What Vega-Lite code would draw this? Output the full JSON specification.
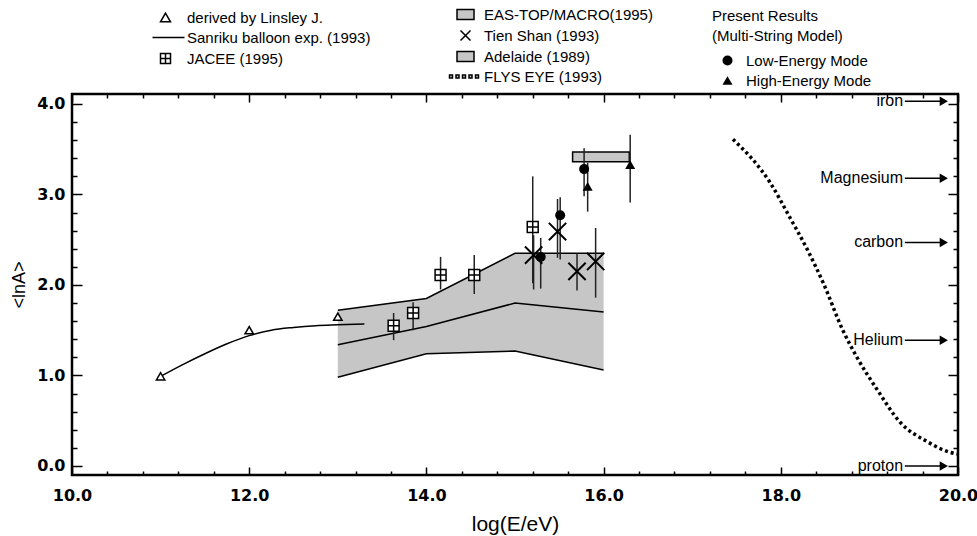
{
  "$schema": "https://vega.github.io/schema/vega-lite/v6.json",
  "width": 886,
  "height": 381,
  "autosize": {"type": "none"},
  "padding": {"left": 72, "top": 94, "right": 19, "bottom": 61},
  "background": "white",
  "config": {
    "view": {"stroke": "black", "strokeWidth": 2.5},
    "font": "Liberation Sans"
  },
  "datasets": {
    "band": [
      {"x": 13, "up": 1.72, "mid": 1.34, "lo": 0.98},
      {"x": 14, "up": 1.85, "mid": 1.54, "lo": 1.24},
      {"x": 15, "up": 2.35, "mid": 1.80, "lo": 1.27},
      {"x": 16, "up": 2.35, "mid": 1.70, "lo": 1.06}
    ],
    "eastop": [{"x": 15.65, "x2": 16.29, "y": 3.36, "y2": 3.47}],
    "sanriku": [
      {"x": 11.0, "y": 0.99},
      {"x": 11.25, "y": 1.12},
      {"x": 11.5, "y": 1.24},
      {"x": 11.75, "y": 1.35},
      {"x": 12.0, "y": 1.44},
      {"x": 12.25, "y": 1.5},
      {"x": 12.5, "y": 1.53},
      {"x": 12.75, "y": 1.55},
      {"x": 13.0, "y": 1.56},
      {"x": 13.3, "y": 1.57}
    ],
    "flys": [
      {"x": 17.46, "y": 3.61},
      {"x": 17.88, "y": 3.13},
      {"x": 18.1, "y": 2.75},
      {"x": 18.3, "y": 2.39},
      {"x": 18.48, "y": 2.02},
      {"x": 18.7, "y": 1.5},
      {"x": 18.86, "y": 1.2},
      {"x": 19.09, "y": 0.84},
      {"x": 19.35, "y": 0.48},
      {"x": 19.65, "y": 0.27},
      {"x": 19.91, "y": 0.15},
      {"x": 20.0, "y": 0.13}
    ],
    "points": [
      {"series": "derived by Linsley J.", "x": 11.0, "y": 0.99, "lo": null, "hi": null},
      {"series": "derived by Linsley J.", "x": 12.0, "y": 1.5, "lo": null, "hi": null},
      {"series": "derived by Linsley J.", "x": 13.0, "y": 1.65, "lo": null, "hi": null},
      {"series": "JACEE (1995)", "x": 13.63, "y": 1.55, "lo": 1.39, "hi": 1.69},
      {"series": "JACEE (1995)", "x": 13.85, "y": 1.69, "lo": 1.5, "hi": 1.81},
      {"series": "JACEE (1995)", "x": 14.16, "y": 2.11, "lo": 1.95, "hi": 2.31},
      {"series": "JACEE (1995)", "x": 14.54, "y": 2.11, "lo": 1.9, "hi": 2.33},
      {"series": "JACEE (1995)", "x": 15.2, "y": 2.64, "lo": 2.02, "hi": 3.2},
      {"series": "Tien Shan (1993)", "x": 15.21, "y": 2.33, "lo": 1.95, "hi": 2.55},
      {"series": "Tien Shan (1993)", "x": 15.48, "y": 2.59, "lo": 2.3, "hi": 2.95},
      {"series": "Tien Shan (1993)", "x": 15.7, "y": 2.15, "lo": 1.94, "hi": 2.35},
      {"series": "Tien Shan (1993)", "x": 15.91, "y": 2.26, "lo": 1.86, "hi": 2.63},
      {"series": "Low-Energy Mode", "x": 15.29, "y": 2.31, "lo": 1.96, "hi": 2.52},
      {"series": "Low-Energy Mode", "x": 15.51, "y": 2.77, "lo": 2.28, "hi": 2.97},
      {"series": "Low-Energy Mode", "x": 15.78, "y": 3.28, "lo": 2.98, "hi": 3.51},
      {"series": "High-Energy Mode", "x": 15.82, "y": 3.09, "lo": 2.81, "hi": 3.35},
      {"series": "High-Energy Mode", "x": 16.3, "y": 3.33, "lo": 2.91, "hi": 3.66}
    ],
    "elements": [
      {"element": "iron", "y": 4.03},
      {"element": "Magnesium", "y": 3.18},
      {"element": "carbon", "y": 2.47},
      {"element": "Helium", "y": 1.39},
      {"element": "proton", "y": 0.0}
    ]
  },
  "layer": [
    {
      "data": {"name": "band"},
      "mark": {"type": "area", "fill": "#c6c6c6", "stroke": null},
      "encoding": {
        "x": {
          "field": "x", "type": "quantitative",
          "scale": {"domain": [10, 20], "nice": false, "zero": false},
          "axis": {
            "orient": "bottom",
            "values": [10, 10.4, 10.8, 11.2, 11.6, 12, 12.4, 12.8, 13.2, 13.6, 14, 14.4, 14.8, 15.2, 15.6, 16, 16.4, 16.8, 17.2, 17.6, 18, 18.4, 18.8, 19.2, 19.6, 20],
            "domain": false, "grid": false,
            "tickColor": "black", "tickWidth": 1.5,
            "tickSize": {"condition": {"test": "abs(datum.value - 2*round(datum.value/2)) < 0.01", "value": -8}, "value": -4},
            "labelExpr": "abs(datum.value - 2*round(datum.value/2)) < 0.01 ? format(datum.value, '.1f') : ''",
            "labelFont": "DejaVu Sans", "labelFontWeight": "bold", "labelFontSize": 16, "labelColor": "black",
            "labelPadding": 20, "labelFlush": false, "labelOverlap": false,
            "title": "log(E/eV)", "titleFont": "Liberation Sans", "titleFontSize": 21, "titleFontWeight": "normal", "titleColor": "black", "titlePadding": 6
          }
        },
        "y": {
          "field": "up", "type": "quantitative",
          "scale": {"domain": [-0.1, 4.11], "nice": false, "zero": false},
          "axis": {
            "orient": "left",
            "values": [0, 0.2, 0.4, 0.6, 0.8, 1, 1.2, 1.4, 1.6, 1.8, 2, 2.2, 2.4, 2.6, 2.8, 3, 3.2, 3.4, 3.6, 3.8, 4],
            "domain": false, "grid": false,
            "tickColor": "black", "tickWidth": 1.5,
            "tickSize": {"condition": {"test": "abs(datum.value - round(datum.value)) < 0.01", "value": -10}, "value": -5},
            "labelExpr": "abs(datum.value - round(datum.value)) < 0.01 ? format(datum.value, '.1f') : ''",
            "labelFont": "DejaVu Sans", "labelFontWeight": "bold", "labelFontSize": 16, "labelColor": "black",
            "labelPadding": 17, "labelFlush": false, "labelOverlap": false,
            "title": "<lnA>", "titleFont": "Liberation Sans", "titleFontSize": 18, "titleFontWeight": "normal", "titleColor": "black", "titlePadding": 8
          }
        },
        "y2": {"field": "lo"}
      }
    },
    {
      "data": {"name": "band"},
      "transform": [{"fold": ["up", "mid", "lo"], "as": ["edge", "value"]}],
      "mark": {"type": "line", "color": "black", "strokeWidth": 1.5},
      "encoding": {
        "x": {"field": "x", "type": "quantitative", "axis": null},
        "y": {"field": "value", "type": "quantitative", "axis": null},
        "detail": {"field": "edge"}
      }
    },
    {
      "data": {"name": "eastop"},
      "mark": {"type": "rect", "fill": "#c6c6c6", "stroke": "black", "strokeWidth": 1.5},
      "encoding": {
        "x": {"field": "x", "type": "quantitative", "axis": null},
        "x2": {"field": "x2"},
        "y": {"field": "y", "type": "quantitative", "axis": null},
        "y2": {"field": "y2"}
      }
    },
    {
      "data": {"name": "sanriku"},
      "mark": {"type": "line", "color": "black", "strokeWidth": 1.5, "interpolate": "monotone"},
      "encoding": {
        "x": {"field": "x", "type": "quantitative", "axis": null},
        "y": {"field": "y", "type": "quantitative", "axis": null}
      }
    },
    {
      "data": {"name": "flys"},
      "mark": {"type": "line", "color": "black", "strokeWidth": 3.5, "strokeDash": [3, 3], "interpolate": "monotone"},
      "encoding": {
        "x": {
          "field": "x", "type": "quantitative",
          "axis": {
            "orient": "top",
            "values": [10, 10.4, 10.8, 11.2, 11.6, 12, 12.4, 12.8, 13.2, 13.6, 14, 14.4, 14.8, 15.2, 15.6, 16, 16.4, 16.8, 17.2, 17.6, 18, 18.4, 18.8, 19.2, 19.6, 20],
            "domain": false, "grid": false, "labels": false, "title": null,
            "tickColor": "black", "tickWidth": 1.5,
            "tickSize": {"condition": {"test": "abs(datum.value - 2*round(datum.value/2)) < 0.01", "value": -8}, "value": -4}
          }
        },
        "y": {
          "field": "y", "type": "quantitative",
          "axis": {
            "orient": "right",
            "values": [0, 0.2, 0.4, 0.6, 0.8, 1, 1.2, 1.4, 1.6, 1.8, 2, 2.2, 2.4, 2.6, 2.8, 3, 3.2, 3.4, 3.6, 3.8, 4],
            "domain": false, "grid": false, "labels": false, "title": null,
            "tickColor": "black", "tickWidth": 1.5,
            "tickSize": {"condition": {"test": "abs(datum.value - round(datum.value)) < 0.01", "value": -10}, "value": -5}
          }
        }
      }
    },
    {
      "data": {"name": "points"},
      "transform": [{"filter": "datum.lo != null"}],
      "mark": {"type": "rule", "color": "#222", "strokeWidth": 1.5},
      "encoding": {
        "x": {"field": "x", "type": "quantitative", "axis": null},
        "y": {"field": "lo", "type": "quantitative", "axis": null},
        "y2": {"field": "hi"}
      }
    },
    {
      "data": {"name": "points"},
      "transform": [{"filter": "datum.series == 'derived by Linsley J.' || datum.series == 'JACEE (1995)'"}],
      "mark": {"type": "point", "filled": true, "fill": "white", "strokeWidth": 1.5, "opacity": 1},
      "encoding": {
        "x": {"field": "x", "type": "quantitative", "axis": null},
        "y": {"field": "y", "type": "quantitative", "axis": null},
        "size": {"condition": {"test": "datum.series == 'JACEE (1995)'", "value": 120}, "value": 70},
        "shape": {
          "field": "series", "type": "nominal",
          "scale": {
            "domain": ["derived by Linsley J.", "Sanriku balloon exp. (1993)", "JACEE (1995)"],
            "range": ["triangle-up", "M-2.6,0L3.8,0", "M-1,-1H1V1H-1Z M0,-1V1 M-1,0H1"]
          },
          "legend": {
            "orient": "none", "legendX": 86, "legendY": -84, "title": null, "padding": 0,
            "symbolSize": 100, "symbolStrokeWidth": 1.5, "symbolStrokeColor": "black", "symbolFillColor": "white",
            "labelFont": "Liberation Sans", "labelFontSize": 15, "labelColor": "black", "labelOffset": 14, "labelLimit": 400, "rowPadding": 4
          }
        },
        "stroke": {
          "field": "series", "type": "nominal",
          "scale": {
            "domain": ["derived by Linsley J.", "Sanriku balloon exp. (1993)", "JACEE (1995)"],
            "range": ["black", "black", "black"]
          },
          "legend": {
            "orient": "none", "legendX": 86, "legendY": -84, "title": null, "padding": 0,
            "symbolSize": 100, "symbolStrokeWidth": 1.5, "symbolStrokeColor": "black", "symbolFillColor": "white",
            "labelFont": "Liberation Sans", "labelFontSize": 15, "labelColor": "black", "labelOffset": 14, "labelLimit": 400, "rowPadding": 4
          }
        }
      }
    },
    {
      "data": {"name": "points"},
      "transform": [{"filter": "datum.series == 'Tien Shan (1993)'"}],
      "mark": {"type": "point", "filled": true, "fill": "#c6c6c6", "strokeWidth": 2, "opacity": 1, "size": 300},
      "encoding": {
        "x": {"field": "x", "type": "quantitative", "axis": null},
        "y": {"field": "y", "type": "quantitative", "axis": null},
        "shape": {
          "field": "series", "type": "nominal",
          "scale": {
            "domain": ["EAS-TOP/MACRO(1995)", "Tien Shan (1993)", "Adelaide (1989)", "FLYS EYE (1993)"],
            "range": ["M-1.7,-1H1.7V1H-1.7Z", "M-1,-1L1,1M-1,1L1,-1", "M-1.7,-1H1.7V1H-1.7Z", "M-3.2,-0.3h0.6v0.6h-0.6z M-1.9,-0.3h0.6v0.6h-0.6z M-0.6,-0.3h0.6v0.6h-0.6z M0.7,-0.3h0.6v0.6h-0.6z M2.0,-0.3h0.6v0.6h-0.6z"]
          },
          "legend": {
            "orient": "none", "legendX": 386, "legendY": -87, "title": null, "padding": 0,
            "symbolSize": 100, "symbolStrokeWidth": 1.5, "symbolStrokeColor": "black", "symbolFillColor": "#c6c6c6",
            "labelFont": "Liberation Sans", "labelFontSize": 15, "labelColor": "black", "labelOffset": 11, "labelLimit": 400, "rowPadding": 4
          }
        },
        "stroke": {
          "field": "series", "type": "nominal",
          "scale": {
            "domain": ["EAS-TOP/MACRO(1995)", "Tien Shan (1993)", "Adelaide (1989)", "FLYS EYE (1993)"],
            "range": ["black", "black", "black", "black"]
          },
          "legend": {
            "orient": "none", "legendX": 386, "legendY": -87, "title": null, "padding": 0,
            "symbolSize": 100, "symbolStrokeWidth": 1.5, "symbolStrokeColor": "black", "symbolFillColor": "#c6c6c6",
            "labelFont": "Liberation Sans", "labelFontSize": 15, "labelColor": "black", "labelOffset": 11, "labelLimit": 400, "rowPadding": 4
          }
        }
      }
    },
    {
      "data": {"name": "points"},
      "transform": [{"filter": "datum.series == 'Low-Energy Mode' || datum.series == 'High-Energy Mode'"}],
      "mark": {"type": "point", "filled": true, "color": "black", "opacity": 1, "size": 100},
      "encoding": {
        "x": {"field": "x", "type": "quantitative", "axis": null},
        "y": {"field": "y", "type": "quantitative", "axis": null},
        "shape": {
          "field": "series", "type": "nominal",
          "scale": {"domain": ["Low-Energy Mode", "High-Energy Mode"], "range": ["circle", "triangle-up"]},
          "legend": {
            "orient": "none", "legendX": 640, "legendY": -85, "padding": 0,
            "title": ["Present Results", "\u00a0\u00a0(Multi-String Model)"],
            "titleFont": "Liberation Sans", "titleFontSize": 15, "titleFontWeight": "normal", "titleColor": "black", "titleLineHeight": 20, "titlePadding": 9,
            "symbolSize": 100, "symbolFillColor": "black", "symbolOffset": 8,
            "labelFont": "Liberation Sans", "labelFontSize": 15, "labelColor": "black", "labelOffset": 11, "labelLimit": 400, "rowPadding": 4
          }
        }
      }
    },
    {
      "data": {"name": "elements"},
      "mark": {"type": "text", "align": "right", "baseline": "middle", "font": "Liberation Sans", "fontSize": 16, "color": "black"},
      "encoding": {
        "x": {"datum": 19.38, "type": "quantitative", "axis": null},
        "y": {"field": "y", "type": "quantitative", "axis": null},
        "text": {"field": "element"}
      }
    },
    {
      "data": {"name": "elements"},
      "mark": {"type": "rule", "color": "black", "strokeWidth": 1.5},
      "encoding": {
        "x": {"datum": 19.4, "type": "quantitative", "axis": null},
        "x2": {"datum": 19.84},
        "y": {"field": "y", "type": "quantitative", "axis": null}
      }
    },
    {
      "data": {"name": "elements"},
      "mark": {"type": "point", "shape": "triangle-right", "filled": true, "color": "black", "opacity": 1, "size": 90},
      "encoding": {
        "x": {"datum": 19.84, "type": "quantitative", "axis": null},
        "y": {"field": "y", "type": "quantitative", "axis": null}
      }
    }
  ],
  "resolve": {
    "scale": {"shape": "independent", "size": "independent", "stroke": "independent"},
    "axis": {"x": "independent", "y": "independent"}
  }
}
